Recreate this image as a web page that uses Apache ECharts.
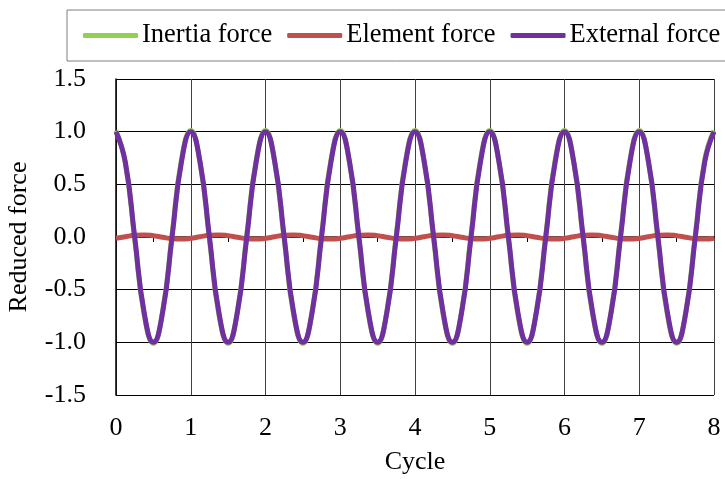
<!DOCTYPE html>
<html>
<head>
<meta charset="utf-8">
<script src="https://cdn.jsdelivr.net/npm/echarts@6/dist/echarts.min.js"></script>
<style>
  html, body { margin: 0; padding: 0; background: #fff; }
  #chart { width: 725px; height: 479px; }
</style>
</head>
<body>
<div id="chart"></div>
<script>
// Time in cycles, sampled every 1/8 cycle from 0 to 8
const cycles = [
  0, 0.125, 0.25, 0.375, 0.5, 0.625, 0.75, 0.875,
  1, 1.125, 1.25, 1.375, 1.5, 1.625, 1.75, 1.875,
  2, 2.125, 2.25, 2.375, 2.5, 2.625, 2.75, 2.875,
  3, 3.125, 3.25, 3.375, 3.5, 3.625, 3.75, 3.875,
  4, 4.125, 4.25, 4.375, 4.5, 4.625, 4.75, 4.875,
  5, 5.125, 5.25, 5.375, 5.5, 5.625, 5.75, 5.875,
  6, 6.125, 6.25, 6.375, 6.5, 6.625, 6.75, 6.875,
  7, 7.125, 7.25, 7.375, 7.5, 7.625, 7.75, 7.875,
  8
];

const inertiaForce = [
  1.01, 0.70, -0.02, -0.73, -1.01, -0.70, 0.02, 0.73,
  1.01, 0.70, -0.02, -0.73, -1.01, -0.70, 0.02, 0.73,
  1.01, 0.70, -0.02, -0.73, -1.01, -0.70, 0.02, 0.73,
  1.01, 0.70, -0.02, -0.73, -1.01, -0.70, 0.02, 0.73,
  1.01, 0.70, -0.02, -0.73, -1.01, -0.70, 0.02, 0.73,
  1.01, 0.70, -0.02, -0.73, -1.01, -0.70, 0.02, 0.73,
  1.01, 0.70, -0.02, -0.73, -1.01, -0.70, 0.02, 0.73,
  1.01, 0.70, -0.02, -0.73, -1.01, -0.70, 0.02, 0.73,
  1.01
];

const elementForce = [
  -0.012, 0.003, 0.016, 0.02, 0.012, -0.003, -0.016, -0.02,
  -0.012, 0.003, 0.016, 0.02, 0.012, -0.003, -0.016, -0.02,
  -0.012, 0.003, 0.016, 0.02, 0.012, -0.003, -0.016, -0.02,
  -0.012, 0.003, 0.016, 0.02, 0.012, -0.003, -0.016, -0.02,
  -0.012, 0.003, 0.016, 0.02, 0.012, -0.003, -0.016, -0.02,
  -0.012, 0.003, 0.016, 0.02, 0.012, -0.003, -0.016, -0.02,
  -0.012, 0.003, 0.016, 0.02, 0.012, -0.003, -0.016, -0.02,
  -0.012, 0.003, 0.016, 0.02, 0.012, -0.003, -0.016, -0.02,
  -0.012
];

const externalForce = [
  1, 0.71, 0, -0.71, -1, -0.71, 0, 0.71,
  1, 0.71, 0, -0.71, -1, -0.71, 0, 0.71,
  1, 0.71, 0, -0.71, -1, -0.71, 0, 0.71,
  1, 0.71, 0, -0.71, -1, -0.71, 0, 0.71,
  1, 0.71, 0, -0.71, -1, -0.71, 0, 0.71,
  1, 0.71, 0, -0.71, -1, -0.71, 0, 0.71,
  1, 0.71, 0, -0.71, -1, -0.71, 0, 0.71,
  1, 0.71, 0, -0.71, -1, -0.71, 0, 0.71,
  1
];

const seriesNames = ['Inertia force', 'Element force', 'External force'];
const seriesColors = ['#92D050', '#C0504D', '#7030A0'];
const seriesData = [inertiaForce, elementForce, externalForce];

const font = '"Liberation Serif", "Times New Roman", serif';

const chart = echarts.init(document.getElementById('chart'), null, { renderer: 'canvas' });

chart.setOption({
  animation: false,
  backgroundColor: '#fff',
  textStyle: { fontFamily: font },
  legend: {
    left: 67,
    top: 10,
    width: 700,
    padding: [12, 12, 12, 16],
    itemGap: 15,
    itemWidth: 55,
    itemHeight: 5,
    icon: 'roundRect',
    borderColor: '#7f7f7f',
    borderWidth: 1,
    borderRadius: 0,
    textStyle: { fontFamily: font, fontSize: 26.5, color: '#000', padding: [0, 0, 0, -1] },
    data: seriesNames
  },
  grid: { left: 116, right: 11, top: 79, bottom: 84, outerBoundsMode: 'none', containLabel: false },
  xAxis: {
    type: 'value',
    min: 0,
    max: 8,
    interval: 1,
    name: 'Cycle',
    nameLocation: 'middle',
    nameGap: 54,
    nameTextStyle: { fontFamily: font, fontSize: 26, color: '#000' },
    axisLine: { show: true, lineStyle: { color: '#000', width: 1.5 } },
    axisTick: { show: false },
    minorTick: { show: true, splitNumber: 4, length: 5, lineStyle: { color: '#000', width: 1 } },
    axisLabel: { fontFamily: font, fontSize: 26, color: '#000', margin: 20 },
    splitLine: { show: true, lineStyle: { color: '#404040', width: 1 } }
  },
  yAxis: {
    type: 'value',
    min: -1.5,
    max: 1.5,
    interval: 0.5,
    name: 'Reduced force',
    nameLocation: 'middle',
    nameGap: 84,
    nameRotate: 90,
    nameTextStyle: { fontFamily: font, fontSize: 26, color: '#000' },
    axisLine: { show: true, onZero: false, lineStyle: { color: '#000', width: 1.5 } },
    axisTick: { show: false },
    axisLabel: {
      fontFamily: font, fontSize: 26, color: '#000', margin: 30,
      formatter: v => v.toFixed(1)
    },
    splitLine: { show: true, lineStyle: { color: '#000', width: 1 } }
  },
  series: seriesNames.map((name, i) => ({
    name: name,
    type: 'line',
    data: cycles.map((c, j) => [c, seriesData[i][j]]),
    smooth: 0.5,
    showSymbol: false,
    symbol: 'none',
    color: seriesColors[i],
    lineStyle: { color: seriesColors[i], width: 5 },
    z: 2 + i
  }))
});
</script>
</body>
</html>
